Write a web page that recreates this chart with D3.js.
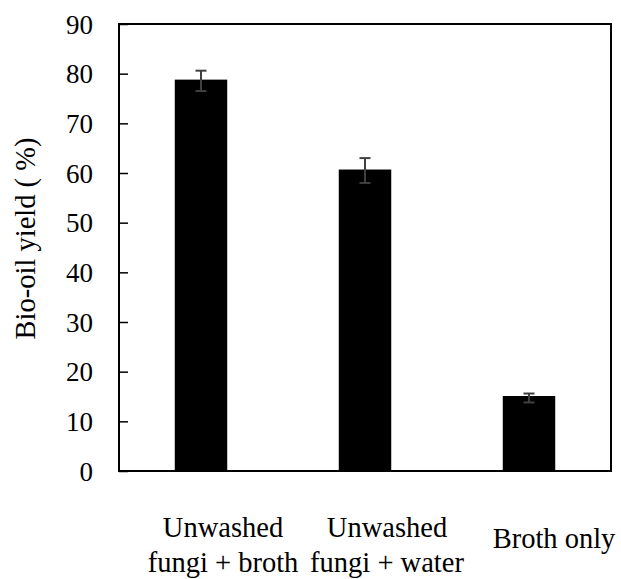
<!DOCTYPE html>
<html>
<head>
<meta charset="utf-8">
<script src="https://cdn.jsdelivr.net/npm/d3@7"></script>
</head>
<body style="margin:0;background:#fff">
<svg width="621" height="579"></svg>
<script>
let width = 621,
    height = 579;
const FONT = "Liberation Serif";

// data
const categories = ["Unwashed fungi + broth", "Unwashed fungi + water", "Broth only"];
const labelLines = [["Unwashed", "fungi + broth"], ["Unwashed", "fungi + water"], ["Broth only"]];
const yields = [78.8, 60.7, 15.1];
const errLow = [76.5, 58.0, 13.8];
const errHigh = [80.6, 63.0, 15.6];
const yTicks = [0, 10, 20, 30, 40, 50, 60, 70, 80, 90];

const margin = { top: 24, right: 10, bottom: 108, left: 119 };

let svg = d3.select("svg");

let x = d3.scaleBand()
    .domain(categories)
    .range([margin.left, width - margin.right])
    .paddingInner(0.68)
    .paddingOuter(0.34);

let y = d3.scaleLinear()
    .domain([0, 90])
    .range([height - margin.bottom, margin.top]);

// bars
svg.append("g")
    .selectAll("rect")
    .data(categories)
    .enter()
    .append("rect")
    .attr("x", (d) => x(d))
    .attr("y", (d, i) => y(yields[i]))
    .attr("width", x.bandwidth())
    .attr("height", (d, i) => y(0) - y(yields[i]))
    .attr("fill", "#000");

// error bars
let eb = svg.append("g")
    .attr("stroke", "#404040")
    .attr("stroke-width", 2);

categories.forEach((c, i) => {
    let cx = x(c) + x.bandwidth() / 2;
    eb.append("line")
        .attr("x1", cx).attr("x2", cx)
        .attr("y1", y(errLow[i])).attr("y2", y(errHigh[i]));
    [errLow[i], errHigh[i]].forEach((v) => {
        eb.append("line")
            .attr("x1", cx - 5.5).attr("x2", cx + 5.5)
            .attr("y1", y(v)).attr("y2", y(v));
    });
});

// plot frame
svg.append("rect")
    .attr("x", margin.left)
    .attr("y", margin.top)
    .attr("width", width - margin.right - margin.left)
    .attr("height", y(0) - margin.top)
    .attr("fill", "none")
    .attr("stroke", "#000")
    .attr("stroke-width", 2);

// y axis, ticks inside
let yAxis = svg.append("g")
    .attr("transform", `translate(${margin.left},0)`)
    .call(d3.axisLeft(y).tickValues(yTicks).tickSize(-9).tickPadding(26));

yAxis.attr("font-family", FONT).attr("font-size", 27);
yAxis.select(".domain").remove();
yAxis.selectAll(".tick line").attr("stroke", "#000").attr("stroke-width", 1.5);
yAxis.selectAll("text")
    .attr("font-family", FONT)
    .attr("font-size", 27)
    .attr("dy", "0.34em")
    .attr("fill", "#000");

// category labels
categories.forEach((c, i) => {
    let cx = x(c) + x.bandwidth() / 2 + 22;
    let lines = labelLines[i];
    let t = svg.append("text")
        .attr("font-family", FONT)
        .attr("text-anchor", "middle")
        .attr("font-size", 28.5);
    if (lines.length == 1) {
        t.attr("x", cx + 3).attr("y", 548).text(lines[0]);
    } else {
        lines.forEach((l, j) => {
            t.append("tspan")
                .attr("x", cx)
                .attr("y", 537 + j * 35)
                .text(l);
        });
    }
});

// y label
svg.append("text")
    .attr("font-family", FONT)
    .attr("transform", "translate(35, 238.5) rotate(-90)")
    .attr("text-anchor", "middle")
    .attr("font-size", 28.5)
    .text("Bio-oil yield ( %)");
</script>
</body>
</html>
